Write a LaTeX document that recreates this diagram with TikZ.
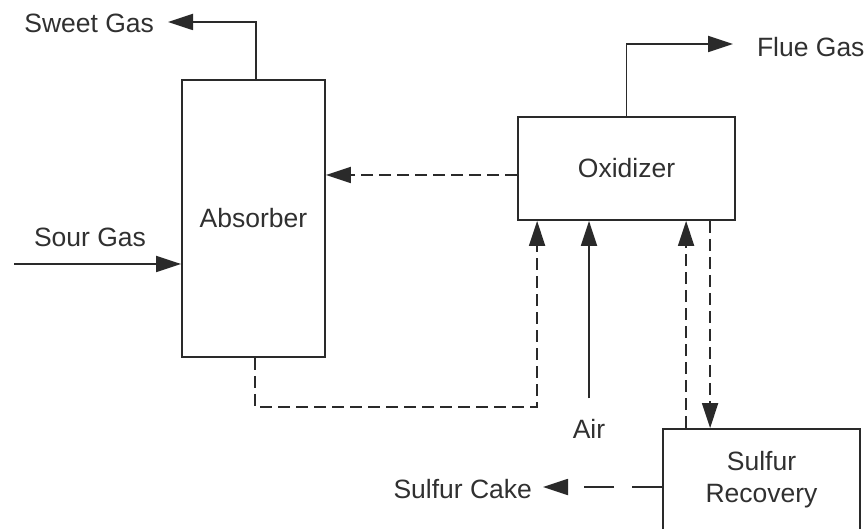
\documentclass[tikz,border=0pt]{standalone}
\usepackage{fontspec}
\setmainfont{Liberation Sans}
\usetikzlibrary{arrows.meta}
\definecolor{ln}{HTML}{2A2A2A}
\definecolor{tx}{HTML}{303030}
\begin{document}
\begin{tikzpicture}[x=1pt,y=-1pt,
  every node/.style={font=\fontsize{26.5}{32}\selectfont, text=tx},
  unit/.style={draw=ln, line width=1.8pt, rectangle, inner sep=0pt, align=center},
  lbl/.style={inner sep=0pt, outer sep=0pt},
  flow/.style={draw=ln, line width=1.8pt, -{Triangle[length=25pt,width=16pt]}},
  dsh/.style={dash pattern=on 12pt off 6pt},
  longdsh/.style={dash pattern=on 30pt off 18pt}]
\useasboundingbox (0,0) rectangle (868,529);

% units
\node[unit, minimum width=143pt, minimum height=277pt] (abs) at (253.5,218.5) {Absorber};
\node[unit, minimum width=217pt, minimum height=103pt] (oxid) at (626.5,168.5) {Oxidizer};
\node[unit, minimum width=197pt, minimum height=102pt] (sr) at (761.5,480) {Sulfur\\Recovery};

% labels
\node[lbl, anchor=east] (sweet) at (154,23) {Sweet Gas};
\node[lbl, anchor=west] (flue) at (757,47) {Flue Gas};
\node[lbl] (sour) at (90,237) {Sour Gas};
\node[lbl] (air) at (589,429) {Air};
\node[lbl, anchor=east] (cake) at (532,489) {Sulfur Cake};

% helper coordinates
\coordinate (sourin) at (14,264);
\coordinate (sweetend) at ([xshift=14pt,yshift=1pt]sweet.east);
\coordinate (flueend) at ([xshift=-24pt,yshift=3pt]flue.west);
\coordinate (oxl) at ([yshift=-6.5pt]oxid.west);
\coordinate (absb) at ([xshift=1.5pt]abs.south);
\coordinate (oxin1) at ([xshift=20pt]oxid.south west);
\coordinate (airtop) at ([yshift=21pt]air.north);
\coordinate (sr1) at ([xshift=24pt]sr.north west);
\coordinate (sr2) at ([xshift=48pt]sr.north west);
\coordinate (sc) at ([yshift=-7pt]sr.west);
\coordinate (ce) at ([xshift=11pt]cake.east);

% connectors
\draw[flow] ([xshift=2.5pt]abs.north) |- (sweetend);
\draw[flow] (oxid.north) |- (flueend);
\draw[flow] (sourin) -- (sourin -| abs.west);
\draw[flow, dsh] (oxl) -- (oxl -| abs.east);
\draw[flow, dsh] (absb) -- ++(0,49) -| (oxin1);
\draw[flow] (airtop) -- (airtop |- oxid.south);
\draw[flow, dsh] (sr1) -- (sr1 |- oxid.south);
\draw[flow, dsh] (sr2 |- oxid.south) -- (sr2);
\draw[flow, longdsh] (sc) -- (sc -| ce);
\end{tikzpicture}
\end{document}
